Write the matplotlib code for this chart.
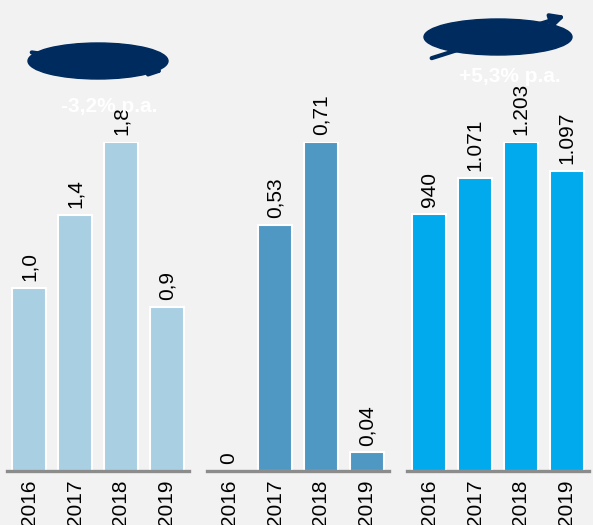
import matplotlib
matplotlib.use("Agg")
import matplotlib.pyplot as plt
from matplotlib.patches import Ellipse

plt.rcParams['font.family'] = ['Liberation Sans', 'DejaVu Sans']

years = ['2016', '2017', '2018', '2019']
vals_a = [1.0, 1.4, 1.8, 0.9]
labels_a = ['1,0', '1,4', '1,8', '0,9']
vals_b = [0, 0.53, 0.71, 0.04]
labels_b = ['0', '0,53', '0,71', '0,04']
vals_c = [940, 1071, 1203, 1097]
labels_c = ['940', '1.071', '1.203', '1.097']

colors = ['#A9CFE3', '#4F98C4', '#00AAEC']
bg = '#F2F2F2'
navy = '#002B5E'

W, H = 593, 525
fig = plt.figure(figsize=(W / 100, H / 100), dpi=100, facecolor=bg)


def px_axes(x0, y0, x1, y1, z=0):
    # pixel box (top-left origin) -> figure fraction
    return fig.add_axes([x0 / W, 1 - y1 / H, (x1 - x0) / W, (y1 - y0) / H], zorder=z)


panels = [(vals_a, labels_a, colors[0], 7),
          (vals_b, labels_b, colors[1], 207),
          (vals_c, labels_c, colors[2], 407)]

for vals, labels, col, left in panels:
    ax = px_axes(left, 142, left + 182, 471)
    ax.set_facecolor('none')
    x = range(len(years))
    ax.bar(x, vals, width=0.74, color=col, edgecolor='white', linewidth=1.5, zorder=2)
    ax.set_xlim(-0.48, 3.48)
    ax.set_ylim(0, max(vals))
    ax.axhline(0, color='#8C8C8C', linewidth=2.4, zorder=3, clip_on=False)
    for xi, v, lab in zip(x, vals, labels):
        ax.annotate(lab, (xi, v), xytext=(0, 5), textcoords='offset points',
                    rotation=90, ha='center', va='bottom', fontsize=15,
                    color='black', zorder=6, annotation_clip=False)
    ax.set_xticks(list(x))
    ax.set_xticklabels(years, rotation=90, fontsize=15, va='top')
    ax.tick_params(axis='x', length=0, pad=6)
    ax.set_yticks([])
    for s in ax.spines.values():
        s.set_visible(False)

# overlay for CAGR bubbles (drawn above the value labels, like the original)
ov = px_axes(0, 0, W, H, z=5)
ov.set_xlim(0, W)
ov.set_ylim(H, 0)
ov.axis('off')

ov.annotate('', xy=(166, 72), xytext=(29, 52),
            arrowprops=dict(arrowstyle='-|>', color=navy, lw=3, mutation_scale=18))
ov.add_patch(Ellipse((98, 61), 140, 36, color=navy, zorder=3))
ov.text(109, 106, '-3,2% p.a.', color='white', fontsize=15, fontweight='bold',
        ha='center', va='center')

ov.annotate('', xy=(568, 15), xytext=(429, 59),
            arrowprops=dict(arrowstyle='-|>', color=navy, lw=3, mutation_scale=20))
ov.add_patch(Ellipse((498, 37), 148, 36, color=navy, zorder=3))
ov.text(510, 77, '+5,3% p.a.', color='white', fontsize=15, fontweight='bold',
        ha='center', va='center')

fig.savefig('out.png', dpi=100, facecolor=bg)
